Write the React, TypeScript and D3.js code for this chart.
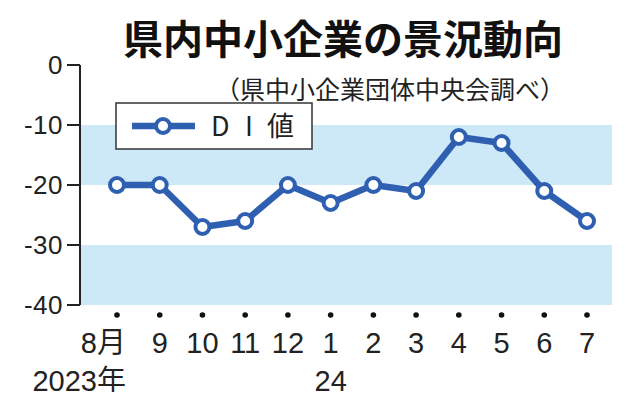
import React from "react";
import * as d3 from "d3";

// 月ラベルとDI値
const months = ["8月", "9", "10", "11", "12", "1", "2", "3", "4", "5", "6", "7"];
const diValues = [-20, -20, -27, -26, -20, -23, -20, -21, -12, -13, -21, -26];
const yTicks = [0, -10, -20, -30, -40];
const bands: [number, number][] = [
  [-10, -20],
  [-30, -40],
];

const W = 634;
const H = 400;
const FONT = "'Noto Sans CJK JP', 'Noto Sans', sans-serif";
const NUM_FONT = "'Liberation Sans', 'Noto Sans CJK JP', sans-serif";
const BLUE = "#2f5fb0";

const App: React.FC = () => {
  const plotLeft = 80;
  const plotRight = 612;

  const x = d3
    .scalePoint<string>()
    .domain(months.map((_, i) => String(i)))
    .range([117, 587]);

  const y = d3.scaleLinear().domain([-40, 0]).range([305, 65]);

  const line = d3
    .line<number>()
    .x((_, i) => x(String(i)) ?? 0)
    .y((d) => y(d));

  return (
    <svg width={W} height={H} style={{ display: "block", margin: -8 }}>
      <rect width={W} height={H} fill="#fff" />

      {/* 背景の帯 */}
      {bands.map(([a, b], i) => (
        <rect
          key={i}
          x={plotLeft}
          y={y(a)}
          width={plotRight - plotLeft}
          height={y(b) - y(a)}
          fill="#cde8f7"
        />
      ))}

      {/* タイトル */}
      <text
        x={343}
        y={54}
        textAnchor="middle"
        fontFamily={FONT}
        fontWeight={700}
        fontSize={40}
        fill="#111"
      >
        県内中小企業の景況動向
      </text>
      <text
        x={565}
        y={99}
        textAnchor="end"
        fontFamily={FONT}
        fontSize={25}
        fill="#222"
      >
        （県中小企業団体中央会調べ）
      </text>

      {/* y軸 */}
      <line x1={plotLeft} x2={plotLeft} y1={y(0)} y2={y(-40)} stroke="#222" strokeWidth={2} />
      {yTicks.map((t) => (
        <g key={t}>
          <line x1={67} x2={plotLeft} y1={y(t)} y2={y(t)} stroke="#222" strokeWidth={2} />
          <text
            x={63}
            y={y(t)}
            dy="0.36em"
            textAnchor="end"
            fontFamily={NUM_FONT}
            fontSize={26}
            letterSpacing={0.5}
            fill="#222"
          >
            {t === 0 ? "0" : `-${Math.abs(t)}`}
          </text>
        </g>
      ))}

      {/* x軸の点とラベル */}
      {months.map((m, i) => {
        const cx = x(String(i)) ?? 0;
        return (
          <g key={i}>
            <circle cx={cx} cy={315} r={2.8} fill="#111" />
            <text
              x={i === 0 ? cx + 9 : cx}
              y={353}
              textAnchor={i === 0 ? "end" : "middle"}
              fontFamily={NUM_FONT}
              fontSize={29}
              fill="#222"
            >
              {m}
            </text>
          </g>
        );
      })}
      <text
        x={(x("0") ?? 0) + 9}
        y={391}
        textAnchor="end"
        fontFamily={NUM_FONT}
        fontSize={29}
        fill="#222"
      >
        2023年
      </text>
      <text
        x={x("5") ?? 0}
        y={391}
        textAnchor="middle"
        fontFamily={NUM_FONT}
        fontSize={29}
        fill="#222"
      >
        24
      </text>

      {/* 折れ線 */}
      <path
        d={line(diValues) ?? ""}
        fill="none"
        stroke={BLUE}
        strokeWidth={6.5}
        strokeLinejoin="round"
      />
      {diValues.map((v, i) => (
        <circle
          key={i}
          cx={x(String(i)) ?? 0}
          cy={y(v)}
          r={7}
          fill="#fff"
          stroke={BLUE}
          strokeWidth={4}
        />
      ))}

      {/* 凡例 */}
      <rect x={116} y={103} width={196} height={46} fill="#fff" stroke="#333" strokeWidth={1.5} />
      <line x1={132} x2={195} y1={126} y2={126} stroke={BLUE} strokeWidth={6.5} />
      <circle cx={163} cy={126} r={7} fill="#fff" stroke={BLUE} strokeWidth={4} />
      <text y={126} dy="0.36em" fontFamily={FONT} fontSize={27} fill="#222">
        <tspan x={211}>D</tspan>
        <tspan x={245}>I</tspan>
        <tspan x={267}>値</tspan>
      </text>
    </svg>
  );
};

export default App;
